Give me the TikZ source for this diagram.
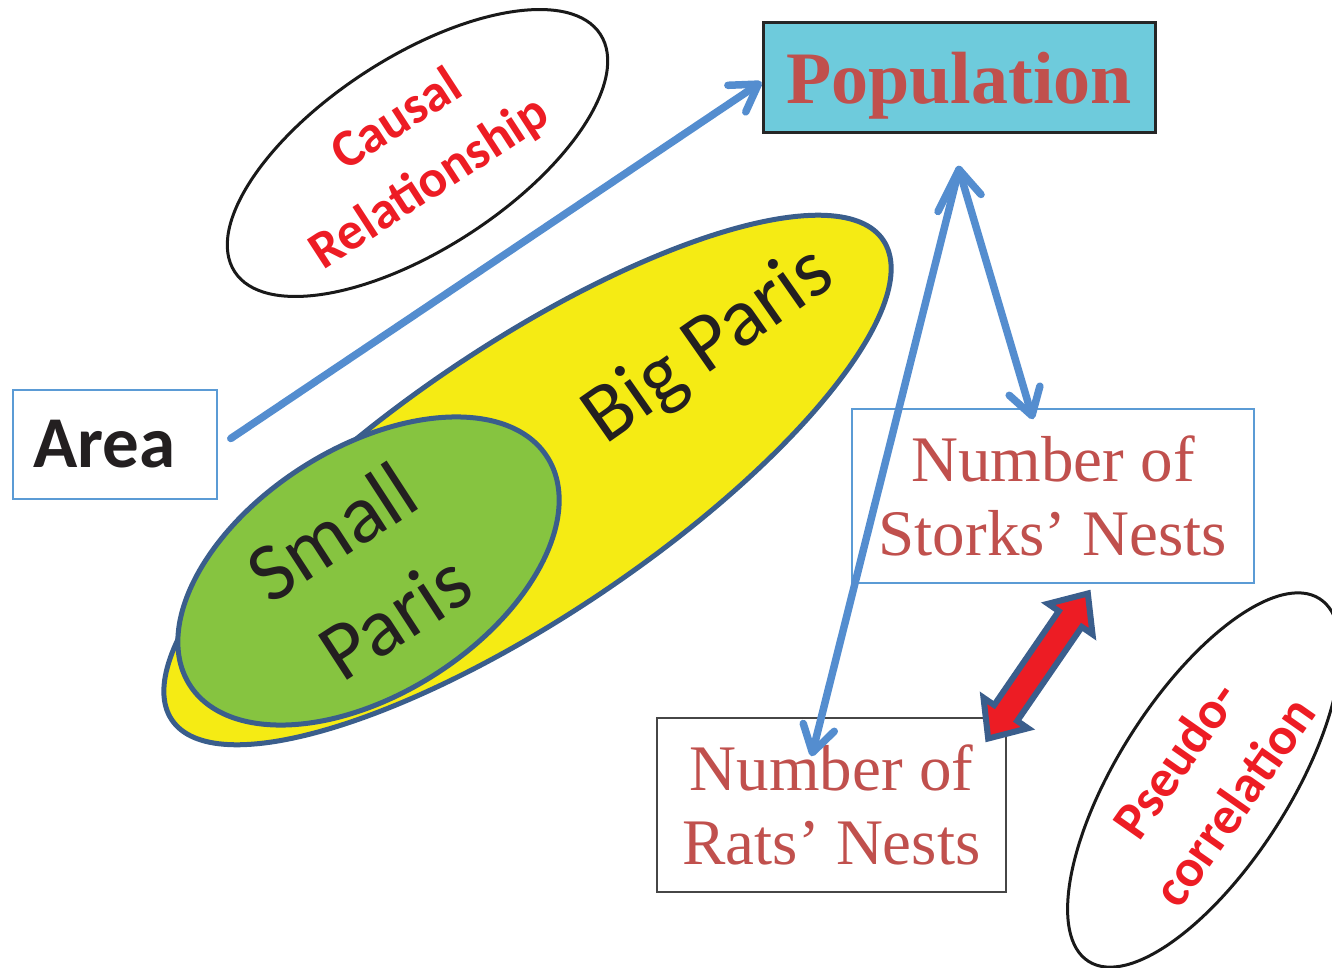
\documentclass[tikz,border=0pt]{standalone}
\usepackage{fontspec}
\setmainfont{Liberation Serif}
\newfontfamily\calibfont{Carlito}
\usetikzlibrary{arrows.meta,shapes.geometric}

\definecolor{arrowblue}{RGB}{84,141,207}
\definecolor{boxblue}{RGB}{91,155,213}
\definecolor{parisyellow}{RGB}{245,235,20}
\definecolor{parisgreen}{RGB}{134,196,64}
\definecolor{ovaledge}{RGB}{58,94,140}
\definecolor{labelred}{RGB}{237,28,36}
\definecolor{brickred}{RGB}{192,80,77}
\definecolor{popfill}{RGB}{110,203,220}
\definecolor{ink}{RGB}{35,31,32}
\definecolor{ratsedge}{RGB}{70,70,70}

\begin{document}
\begin{tikzpicture}[x=1pt,y=-1pt,
  oval/.style={ellipse, draw, inner sep=0pt, outer sep=0pt},
  notecircle/.style={oval, draw=black!90, line width=3pt},
  setoval/.style={oval, draw=ovaledge, line width=5pt},
  tag/.style={text=labelred, anchor=base, inner sep=0pt,
    font=\calibfont\bfseries\fontsize{53}{64}\selectfont},
  setname/.style={text=ink, anchor=base, inner sep=0pt,
    font=\calibfont\fontsize{83}{100}\selectfont},
  countbox/.style={line width=1.5pt, minimum height=174pt, align=center,
    inner sep=0pt, text=brickred, font=\fontsize{65}{74}\selectfont},
  blueline/.style={draw=arrowblue, line width=7.5pt, line cap=round, line join=round},
  bluearrow/.style={blueline, -{Straight Barb[length=26pt,width=32pt,round]}},
]
\useasboundingbox (0,0) rectangle (1332,968);
\clip (0,0) rectangle (1332,968);

% annotation ovals
\node[notecircle, rotate=33, minimum width=436pt, minimum height=192pt] (causal) at (417.5,153) {};
\node[notecircle, rotate=57.5, minimum width=430pt, minimum height=172pt] (pseudo) at (1204,780) {};

% nested sets: Big Paris containing Small Paris
\node[setoval, fill=parisyellow, rotate=34, minimum width=858pt, minimum height=270pt] (big) at (527.5,480) {};
\node[setoval, fill=parisgreen, rotate=32.5, minimum width=424pt, minimum height=246pt] (small) at (368.5,571) {};

\node[setname, rotate=35] (bigname) at (722,364) {Big Paris};
\node[setname, rotate=33] (smallname1) at (347,556) {Small};
\node[setname, rotate=33] (smallname2) at (410,640) {Paris};

% oval labels
\node[tag, rotate=33] (causal1) at (405,133) {Causal};
\node[tag, rotate=33] (causal2) at (438,196) {Relationship};
\node[tag, rotate=55] (pseudo1) at (1190,770) {Pseudo-};
\node[tag, rotate=55] (pseudo2) at (1249,812) {correlation};

% boxes
\node[draw=boxblue, line width=1.5pt, minimum height=109pt, inner ysep=0pt,
  inner xsep=20pt, text width=164pt, align=left, text=ink,
  font=\calibfont\bfseries\fontsize{73}{88}\selectfont] (area) at (115,444.5) {Area};
\node[draw=black!85, line width=3pt, fill=popfill, minimum width=392pt, minimum height=110pt,
  inner sep=0pt, text depth=0pt, text=brickred,
  font=\bfseries\fontsize{74}{88}\selectfont] (pop) at (959,78) {Population};
\node[countbox, draw=boxblue, minimum width=402pt] (storks) at (1053,496) {Number of\\Storks’ Nests};
\node[countbox, draw=ratsedge, minimum width=349pt] (rats) at (831.5,805) {Number of\\Rats’ Nests};

% connector end points
\coordinate (areaout) at ([xshift=13pt,yshift=6pt]area.east);
\coordinate (popin) at ([yshift=-4pt]pop.west);
\coordinate (apex) at ([yshift=-35pt]pop.south);
\coordinate (storkstip) at ([xshift=-20pt,yshift=-11pt]storks.north);
\coordinate (ratstip) at ([xshift=-20pt,yshift=-39pt]rats.north);

% causal arrow and population arrows
\draw[bluearrow] (areaout) -- (popin);
\draw[bluearrow] (apex) -- (storkstip);
\draw[bluearrow] (apex) -- (ratstip);
\draw[blueline] ([shift={(-21,42)}]apex) -- (apex) -- ([shift={(22,25)}]apex);

% block double arrow between the two nest counts
\begin{scope}[shift={(1038,666)}, rotate=55.5]
  \filldraw[fill=labelred, draw=ovaledge, line width=6pt, line join=miter]
    (-88,0) -- (-57,27) -- (-57,14) -- (57,14) -- (57,27) -- (88,0)
    -- (57,-27) -- (57,-14) -- (-57,-14) -- (-57,-27) -- cycle;
\end{scope}
\end{tikzpicture}
\end{document}
